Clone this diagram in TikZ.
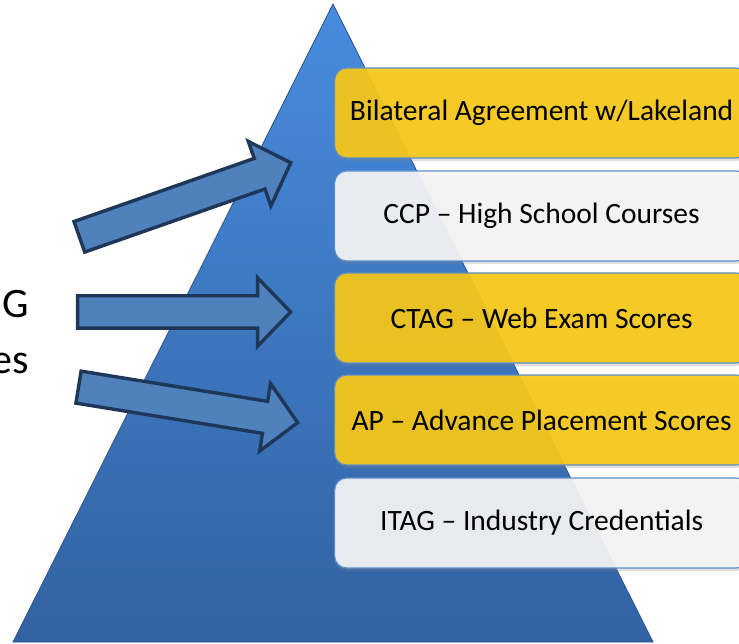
\documentclass[tikz,border=0pt]{standalone}
\usepackage{fontspec}
\setmainfont{Carlito}
\usetikzlibrary{shapes.arrows,shadows}
\definecolor{pyrtop}{RGB}{72,140,222}
\definecolor{pyrbot}{RGB}{50,98,162}
\definecolor{tiergold}{RGB}{247,200,22}
\definecolor{tierpale}{RGB}{245,245,246}
\definecolor{tierline}{RGB}{92,142,202}
\definecolor{arrowfill}{RGB}{79,129,189}
\definecolor{arrowline}{RGB}{30,55,88}

\begin{document}
\begin{tikzpicture}[
    x=1pt, y=-1pt,
    tier/.style={
        draw=tierline,
        line width=1.2pt,
        rounded corners=12pt,
        fill opacity=.92,
        text opacity=1,
        anchor=west,
        minimum width=414pt,
        minimum height=90pt,
        inner sep=0pt,
        font=\fontsize{29.5}{34}\selectfont,
        drop shadow={opacity=.25, shadow xshift=0pt, shadow yshift=-3pt}},
    gold/.style={tier, fill=tiergold},
    pale/.style={tier, fill=tierpale},
    sidetext/.style={
        anchor=base east,
        inner sep=0pt,
        font=\fontsize{42}{48}\selectfont},
    blockarrow/.style={
        single arrow,
        draw=arrowline,
        fill=arrowfill,
        line width=3.4pt,
        inner xsep=0pt,
        inner ysep=14.5pt,
        anchor=tip,
        single arrow head extend=18pt,
        single arrow tip angle=92}]
    \useasboundingbox (0,0) rectangle (739,644);
    \clip (0,0) rectangle (739,644);

    \shade[top color=pyrtop, bottom color=pyrbot, draw=pyrbot!85!black, line width=.8pt]
        (333,4) -- (653,642) -- (13,642) -- cycle;

    \node[gold] (A) at (334,113) {Bilateral Agreement w/Lakeland};
    \node[pale] (B) at (334,216) {CCP -- High School Courses};
    \node[gold] (C) at (334,318) {CTAG -- Web Exam Scores};
    \node[gold] (D) at (334,420) {AP -- Advance Placement Scores};
    \node[pale] (E) at (334,523) {ITAG -- Industry Credentials};

    \node[sidetext] (S) at (29,318) {G};
    \node[sidetext] (T) at (29,373) {es};

    \node[blockarrow, minimum height=224pt, rotate=19.3] (P) at (293,162) {};
    \node[blockarrow, minimum height=213pt] (Q) at (293,312) {};
    \node[blockarrow, minimum height=222pt, rotate=-9.2] (R) at (300,423) {};
\end{tikzpicture}
\end{document}
